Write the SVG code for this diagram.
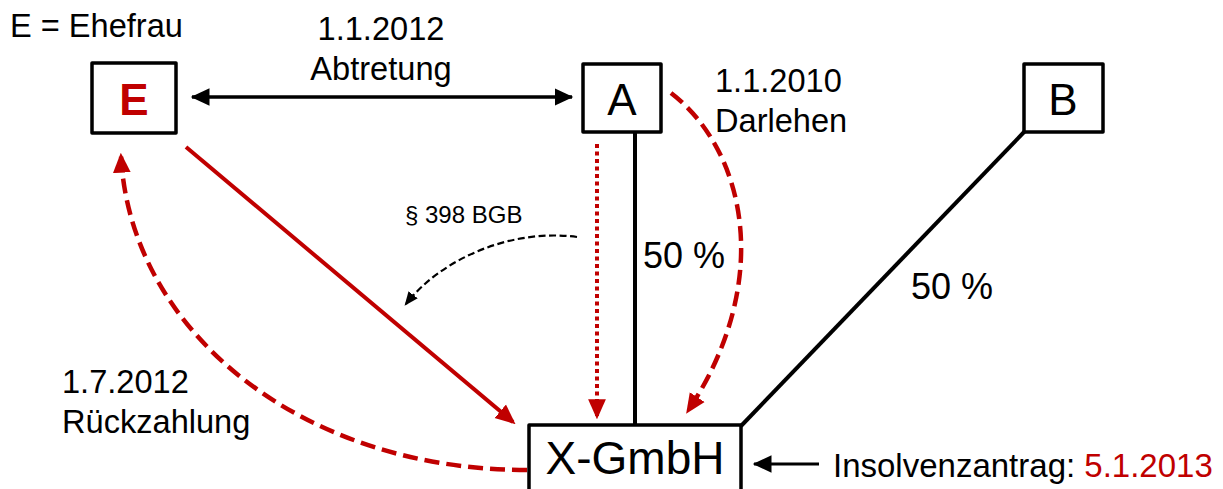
<svg xmlns="http://www.w3.org/2000/svg" width="1223" height="489" viewBox="0 0 1223 489">
<style>
text{font-family:"Liberation Sans",Arial,sans-serif;fill:#000}
.box{fill:#fff;stroke:#000;stroke-width:3.5;stroke-linejoin:round}
.lbl{font-size:32.6px}
.big{font-size:44px}
.red{fill:#C00000}
.blk{stroke:#000;fill:none}
.rd{stroke:#C00000;fill:none}
</style>
<defs>
<marker id="ab" markerUnits="userSpaceOnUse" markerWidth="20" markerHeight="20" refX="14" refY="7" orient="auto-start-reverse" viewBox="0 0 16 14">
<path d="M0,0 L15,7 L0,14 Z" fill="#000"/>
</marker>
<marker id="ar" markerUnits="userSpaceOnUse" markerWidth="20" markerHeight="20" refX="15" refY="8" orient="auto" viewBox="0 0 18 16">
<path d="M0,0 L18,8 L0,16 Z" fill="#C00000"/>
</marker>
<marker id="abs" markerUnits="userSpaceOnUse" markerWidth="14" markerHeight="14" refX="10" refY="5" orient="auto" viewBox="0 0 12 10">
<path d="M0,0 L12,5 L0,10 Z" fill="#000"/>
</marker>
</defs>

<g id="connectors">
<line class="blk" x1="635" y1="132" x2="635" y2="426" stroke-width="4"/>
<line class="blk" x1="1025" y1="131" x2="741" y2="426" stroke-width="4"/>
<line class="blk" x1="192" y1="97" x2="572" y2="97" stroke-width="3.5" marker-start="url(#ab)" marker-end="url(#ab)"/>
<line class="rd" x1="186" y1="147" x2="513" y2="422" stroke-width="4" marker-end="url(#ar)"/>
<path class="rd" d="M 527 470 C 300 470, 130 330, 121 156" stroke-width="4.5" stroke-dasharray="15 7" marker-end="url(#ar)"/>
<line class="rd" x1="597" y1="144" x2="597" y2="416" stroke-width="4" stroke-dasharray="4 3.5" marker-end="url(#ar)"/>
<path class="rd" d="M 671 93 C 745 150, 775 280, 688 411" stroke-width="4.5" stroke-dasharray="15 7" marker-end="url(#ar)"/>
<path class="blk" d="M 577 237 C 510 228, 440 260, 406 304" stroke-width="2.2" stroke-dasharray="7 3.5" marker-end="url(#abs)"/>
<line class="blk" x1="819" y1="464" x2="754" y2="464" stroke-width="3" marker-end="url(#ab)"/>
</g>

<g id="node-E">
<rect class="box" x="92" y="63" width="84" height="70"/>
<text class="big red" x="134" y="115" text-anchor="middle" font-weight="bold">E</text>
</g>
<g id="node-A">
<rect class="box" x="583" y="64" width="78" height="68"/>
<text class="big" x="622" y="115" text-anchor="middle">A</text>
</g>
<g id="node-B">
<rect class="box" x="1024" y="64" width="79" height="68"/>
<text class="big" x="1063" y="115" text-anchor="middle">B</text>
</g>
<g id="node-X">
<rect class="box" x="529" y="425" width="212" height="80"/>
<text x="635" y="474" text-anchor="middle" font-size="46">X-GmbH</text>
</g>

<g id="labels">
<text class="lbl" x="10" y="37">E = Ehefrau</text>
<text class="lbl" x="381" y="40" text-anchor="middle">1.1.2012</text>
<text class="lbl" x="381" y="80" text-anchor="middle">Abtretung</text>
<text class="lbl" x="715" y="92">1.1.2010</text>
<text class="lbl" x="715" y="132">Darlehen</text>
<text x="405" y="223" font-size="24">§ 398 BGB</text>
<text x="643" y="268" font-size="36">50 %</text>
<text x="911" y="299" font-size="36">50 %</text>
<text class="lbl" x="62" y="393">1.7.2012</text>
<text class="lbl" x="62" y="433">Rückzahlung</text>
<text x="833" y="477" font-size="33">Insolvenzantrag: <tspan class="red">5.1.2013</tspan></text>
</g>
</svg>
